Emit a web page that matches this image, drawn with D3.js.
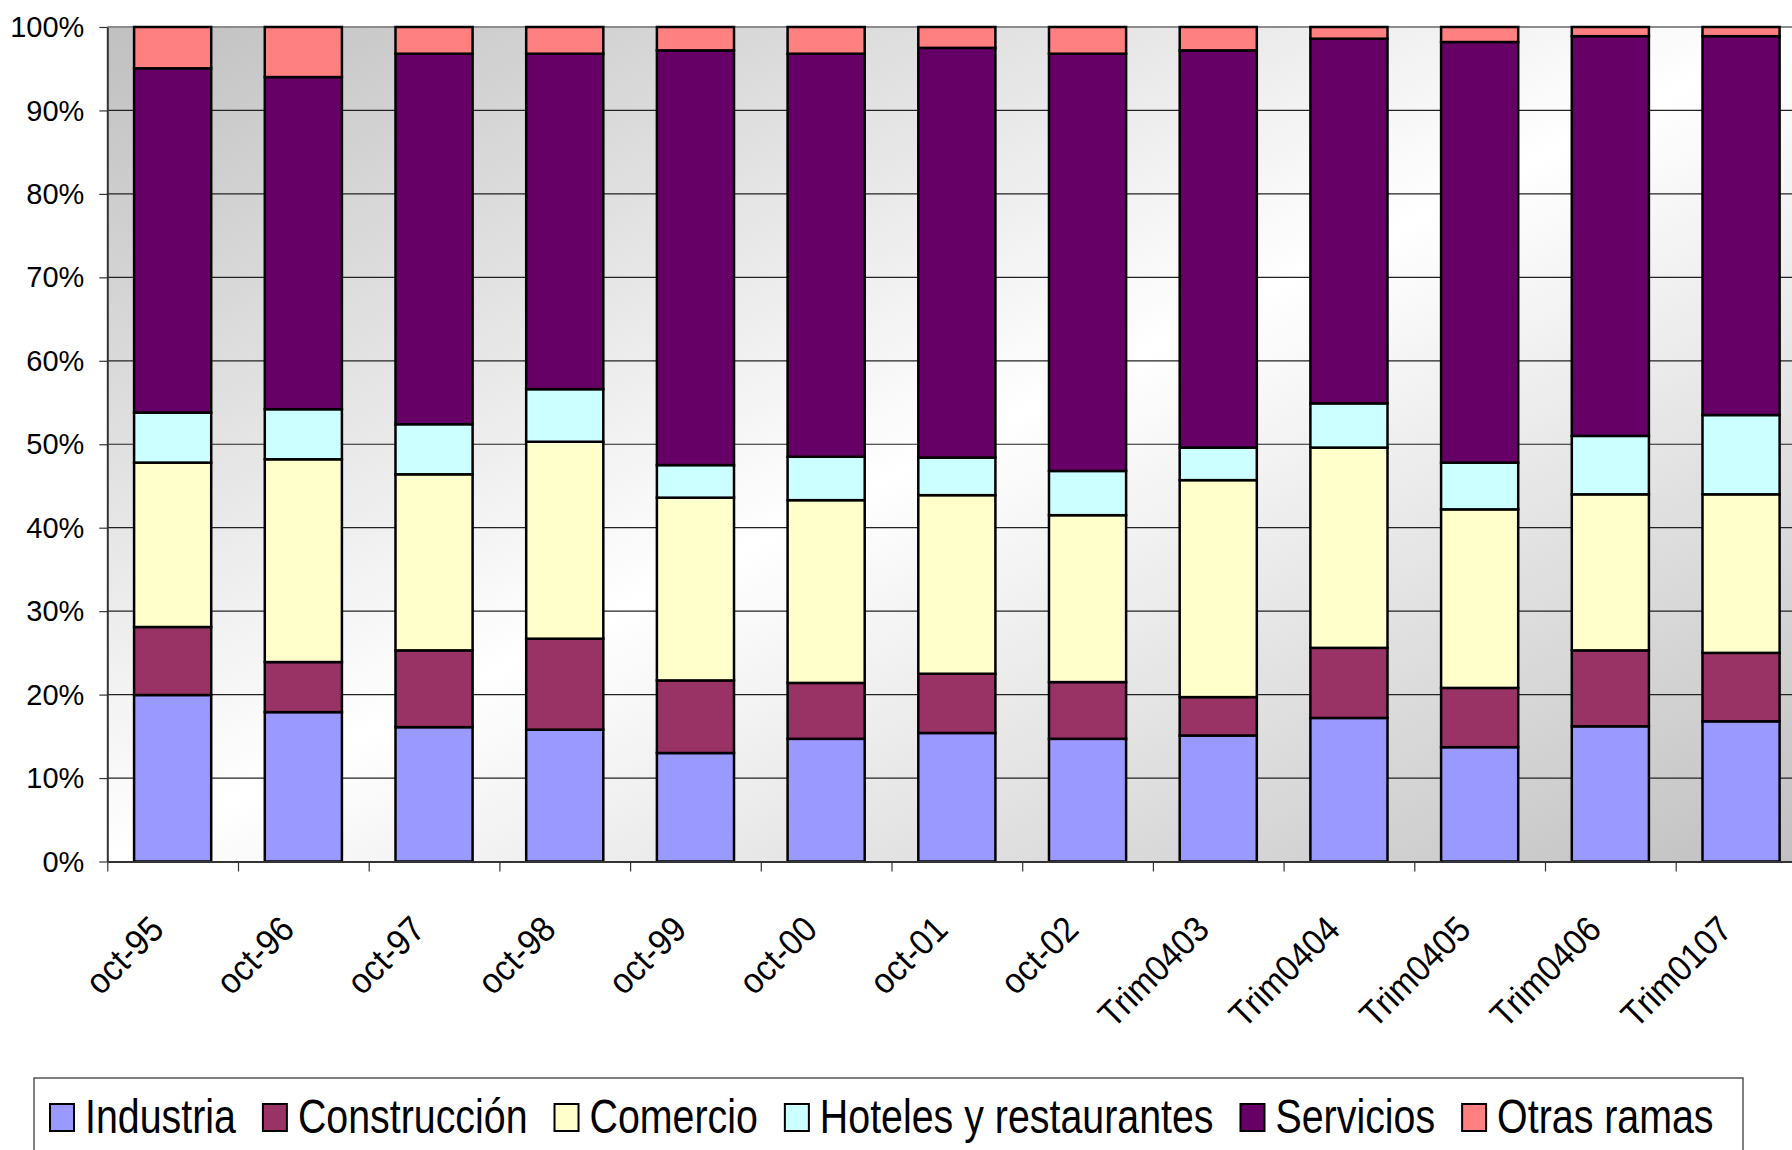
<!DOCTYPE html>
<html>
<head>
<meta charset="utf-8">
<script src="https://cdn.jsdelivr.net/npm/d3@7"></script>
<style>
body{margin:0;background:#fff}
text{font-family:"Liberation Sans",Arial,sans-serif;fill:#000}
</style>
</head>
<body>
<svg id="graph"></svg>
<script>
// data (share of each branch, %)
var categories=["oct-95","oct-96","oct-97","oct-98","oct-99","oct-00","oct-01","oct-02","Trim0403","Trim0404","Trim0405","Trim0406","Trim0107"]
var seriesNames=["Industria","Construcción","Comercio","Hoteles y restaurantes","Servicios","Otras ramas"]
var industria=[19.95,17.9,16.1,15.8,13.0,14.7,15.4,14.7,15.1,17.2,13.7,16.2,16.8]
var construccion=[8.15,6.0,9.2,10.9,8.7,6.7,7.1,6.8,4.6,8.4,7.1,9.1,8.2]
var comercio=[19.7,24.3,21.1,23.6,21.9,21.9,21.4,20.0,26.0,24.0,21.4,18.7,19.0]
var hoteles=[6.0,6.0,6.0,6.3,3.9,5.2,4.5,5.3,3.9,5.3,5.6,7.0,9.5]
var servicios=[41.25,39.8,44.4,40.2,49.7,48.3,49.1,50.0,47.6,43.7,50.4,47.9,45.4]
var otras=[4.95,6.0,3.2,3.2,2.8,3.2,2.5,3.2,2.8,1.4,1.8,1.1,1.1]
var yTicks=[0,10,20,30,40,50,60,70,80,90,100]

var colors=["#9999ff","#993366","#ffffcc","#ccffff","#660066","#ff8080"]

var table=categories.map(function(c,i){
    var row={cat:c}
    row[seriesNames[0]]=industria[i]
    row[seriesNames[1]]=construccion[i]
    row[seriesNames[2]]=comercio[i]
    row[seriesNames[3]]=hoteles[i]
    row[seriesNames[4]]=servicios[i]
    row[seriesNames[5]]=otras[i]
    return row
})

var MakeGraph=function()
{
    var screen={width:1792,height:1150}
    var left=107.3, top=27, bottom=861.5, step=130.7
    var right=left+categories.length*step

    var svg=d3.select("#graph")
    .attr("width",screen.width)
    .attr("height",screen.height)

    var grad=svg.append("defs").append("linearGradient")
    .attr("id","bg").attr("x1",0).attr("y1",0).attr("x2",1).attr("y2",1)
    grad.append("stop").attr("offset",0).attr("stop-color","#c0c0c0")
    grad.append("stop").attr("offset",0.5).attr("stop-color","#ffffff")
    grad.append("stop").attr("offset",1).attr("stop-color","#c0c0c0")

    var xScale=d3.scaleBand()
    .domain(categories)
    .range([left,right])
    .paddingInner(0.41)
    .paddingOuter(0.205)

    var yScale=d3.scaleLinear()
    .domain([0,100])
    .range([bottom,top])

    svg.append("rect")
    .attr("x",left).attr("y",top)
    .attr("width",right-left).attr("height",bottom-top)
    .attr("fill","url(#bg)")

    // gridlines
    svg.append("g").selectAll("line")
    .data(yTicks.filter(function(d){return d>0&&d<100}))
    .enter().append("line")
    .attr("x1",left).attr("x2",right)
    .attr("y1",function(d){return yScale(d)})
    .attr("y2",function(d){return yScale(d)})
    .attr("stroke","#222").attr("stroke-width",1.2)

    svg.append("line")
    .attr("x1",left).attr("x2",right)
    .attr("y1",yScale(100)).attr("y2",yScale(100))
    .attr("stroke","#8c8c8c").attr("stroke-width",2)

    var stacked=d3.stack().keys(seriesNames)(table)

    svg.append("g").selectAll("g")
    .data(stacked)
    .enter().append("g")
    .attr("fill",function(d,i){return colors[i]})
    .selectAll("rect")
    .data(function(d){return d})
    .enter().append("rect")
    .attr("x",function(d){return xScale(d.data.cat)})
    .attr("width",xScale.bandwidth())
    .attr("y",function(d){return yScale(d[1])})
    .attr("height",function(d){return yScale(d[0])-yScale(d[1])})
    .attr("stroke","#000").attr("stroke-width",2.5)

    // y axis
    var yAxis=svg.append("g")
    .attr("transform","translate("+left+",0)")
    .call(d3.axisLeft(yScale).tickValues(yTicks).tickSize(8).tickSizeOuter(0)
        .tickFormat(function(d){return d+"%"}))
    yAxis.select(".domain").attr("stroke","#333").attr("stroke-width",2)
    yAxis.selectAll(".tick line").attr("stroke","#333").attr("stroke-width",1.2)
    yAxis.selectAll(".tick text")
    .attr("x",-23).attr("dy","0.33em")
    .style("font-size","29px")
    .style("font-family","'Liberation Sans',Arial,sans-serif")

    // x axis: ticks between categories
    var edge=d3.scaleLinear().domain([0,categories.length]).range([left,right])
    var xAxis=svg.append("g")
    .attr("transform","translate(0,"+bottom+")")
    .call(d3.axisBottom(edge).tickValues(d3.range(0,categories.length+1)).tickSize(10).tickSizeOuter(0).tickFormat(""))
    xAxis.select(".domain").attr("stroke","#333").attr("stroke-width",2)
    xAxis.selectAll(".tick line").attr("stroke","#333").attr("stroke-width",1.2)

    svg.append("g").selectAll("text")
    .data(categories)
    .enter().append("text")
    .attr("text-anchor","end")
    .attr("transform",function(d){
        var px=xScale(d)+xScale.bandwidth()/2-7
        return "translate("+px+","+(bottom+70)+") rotate(-45) scale(0.92,1)"
    })
    .style("font-size","36px")
    .text(function(d){return d})

    // legend
    svg.append("rect")
    .attr("x",34).attr("y",1078)
    .attr("width",1709).attr("height",110)
    .attr("fill","#fff").attr("stroke","#555").attr("stroke-width",1.5)

    var lx=50, sx=0.82
    seriesNames.forEach(function(name,i){
        svg.append("rect")
        .attr("x",lx).attr("y",1104)
        .attr("width",24).attr("height",27)
        .attr("fill",colors[i]).attr("stroke","#000").attr("stroke-width",2)
        var t=svg.append("text")
        .attr("transform","translate("+(lx+35)+",1133) scale("+sx+",1)")
        .style("font-size","48px")
        .text(name)
        lx=lx+35+t.node().getComputedTextLength()*sx+27
    })
}

MakeGraph()
</script>
</body>
</html>
